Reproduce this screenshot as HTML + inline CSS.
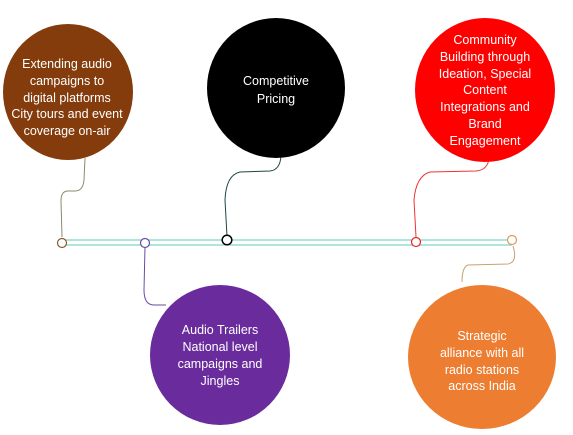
<!DOCTYPE html>
<html><head><style>
html,body{margin:0;padding:0;background:#fff;}
svg{display:block;}
text{font-family:"Liberation Sans",sans-serif;font-size:12.5px;fill:#fff;text-anchor:middle;}
</style></head><body>
<svg width="573" height="435" viewBox="0 0 573 435" xmlns="http://www.w3.org/2000/svg">
<line x1="62" y1="240" x2="512" y2="240" stroke="#7fd6c8" stroke-width="1.3"/>
<line x1="62" y1="245" x2="512" y2="245" stroke="#7fd6c8" stroke-width="1.3"/>
<path d="M85 158 L84 180 Q83 191 75 191 L68 191 Q61 191 61 201 L62 237" fill="none" stroke="#8a8a6a" stroke-width="1"/>
<path d="M281 156 Q280 170 270 171 L240 172 Q226 175 225 200 L227 236" fill="none" stroke="#244" stroke-width="1"/>
<path d="M489 158 Q488 170 476 171 L430 172 Q416 176 414 200 L416 237" fill="none" stroke="#e33" stroke-width="1"/>
<path d="M145 247 L144 290 Q144 305 154 305 L166 305" fill="none" stroke="#6a4aa8" stroke-width="1"/>
<path d="M513 246 Q518 262 508 264 L468 265 Q462 267 462 282" fill="none" stroke="#c8a070" stroke-width="1"/>
<circle cx="62" cy="243" r="4.5" fill="#fff" stroke="#8b5a2b" stroke-width="1.2"/>
<circle cx="145" cy="243" r="4.5" fill="#fff" stroke="#6a4aa8" stroke-width="1.2"/>
<circle cx="227" cy="240" r="4.8" fill="#fff" stroke="#000" stroke-width="1.5"/>
<circle cx="416" cy="242" r="4.5" fill="#fff" stroke="#e22" stroke-width="1.2"/>
<circle cx="512" cy="240" r="4.5" fill="#fff" stroke="#d89a60" stroke-width="1.2"/>
<ellipse cx="68" cy="92" rx="65" ry="68" fill="#843c0c"/>
<ellipse cx="276" cy="88" rx="69" ry="70" fill="#000"/>
<ellipse cx="485" cy="90" rx="70" ry="72" fill="#ff0000"/>
<ellipse cx="220" cy="355" rx="70" ry="70" fill="#6a2c9c"/>
<ellipse cx="482" cy="357" rx="74" ry="72" fill="#ed7d31"/>
<text x="67" y="68">Extending audio</text>
<text x="67" y="85">campaigns to</text>
<text x="67" y="102">digital platforms</text>
<text x="67" y="118">City tours and event</text>
<text x="67" y="135">coverage on-air</text>
<text x="276" y="85">Competitive</text>
<text x="276" y="103">Pricing</text>
<text x="485" y="44">Community</text>
<text x="485" y="61">Building through</text>
<text x="485" y="78">Ideation, Special</text>
<text x="485" y="94">Content</text>
<text x="485" y="111">Integrations and</text>
<text x="485" y="128">Brand</text>
<text x="485" y="145">Engagement</text>
<text x="220" y="334">Audio Trailers</text>
<text x="220" y="351">National level</text>
<text x="220" y="368">campaigns and</text>
<text x="220" y="385">Jingles</text>
<text x="482" y="340">Strategic</text>
<text x="482" y="357">alliance with all</text>
<text x="482" y="374">radio stations</text>
<text x="482" y="390">across India</text>
</svg>
</body></html>
